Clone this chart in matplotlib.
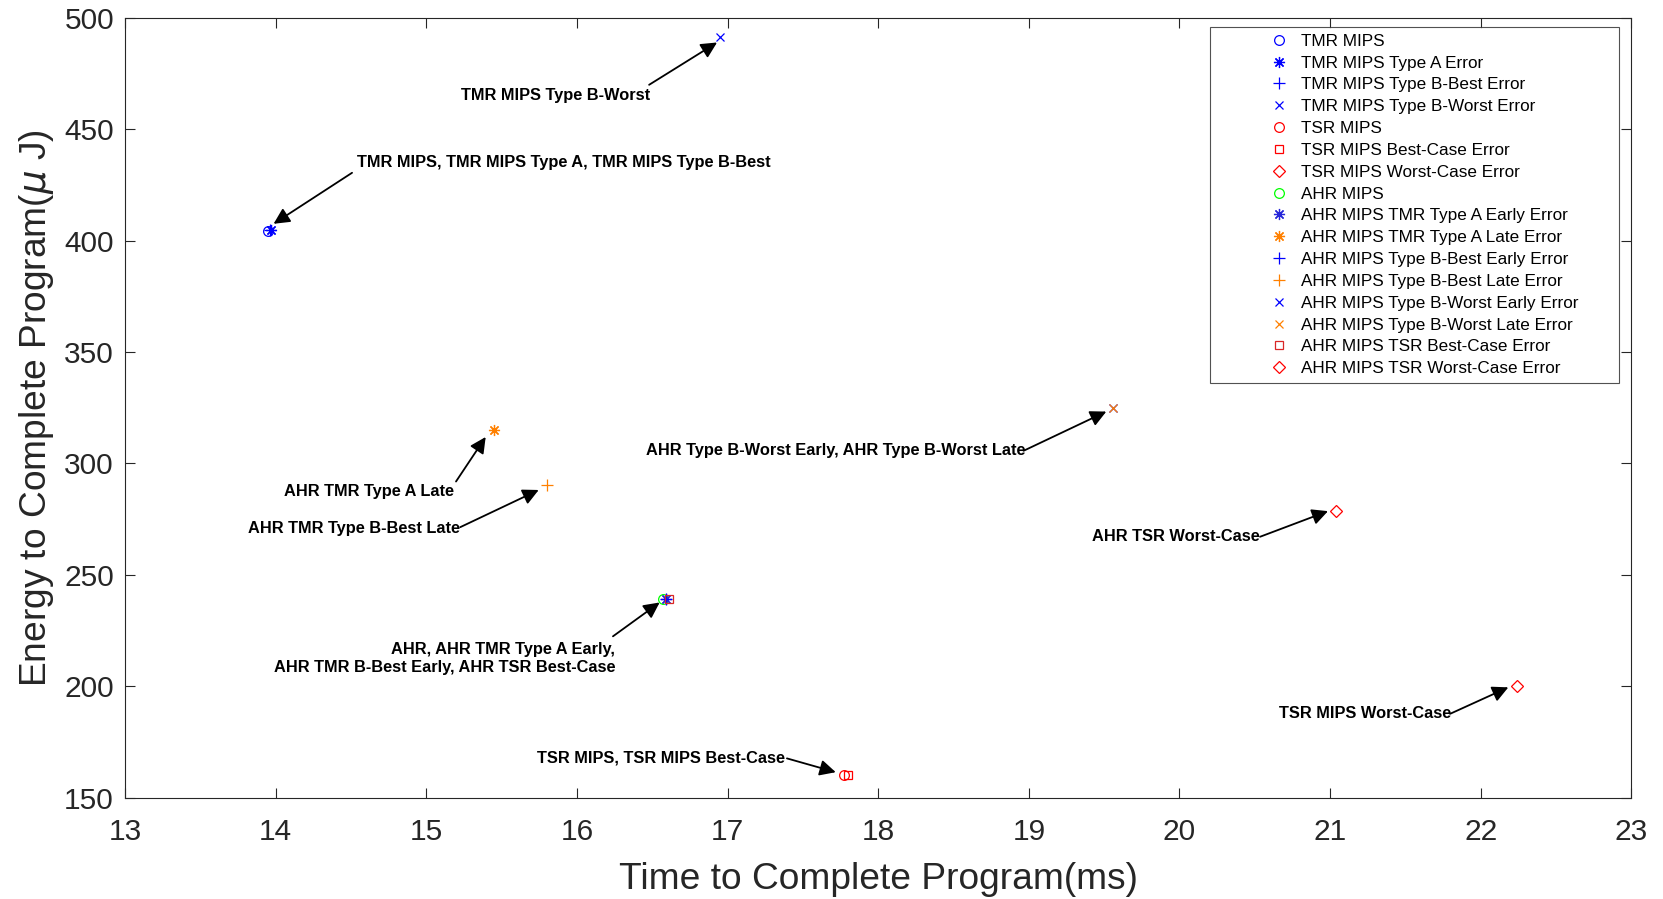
import numpy as np
import matplotlib
matplotlib.use('Agg')
import matplotlib.pyplot as plt
from matplotlib.lines import Line2D
from matplotlib.legend_handler import HandlerLine2D

plt.rcParams['font.family'] = ['Liberation Sans', 'DejaVu Sans']

# series (legend order)
names = [
    'TMR MIPS', 'TMR MIPS Type A Error', 'TMR MIPS Type B-Best Error',
    'TMR MIPS Type B-Worst Error', 'TSR MIPS', 'TSR MIPS Best-Case Error',
    'TSR MIPS Worst-Case Error', 'AHR MIPS', 'AHR MIPS TMR Type A Early Error',
    'AHR MIPS TMR Type A Late Error', 'AHR MIPS Type B-Best Early Error',
    'AHR MIPS Type B-Best Late Error', 'AHR MIPS Type B-Worst Early Error',
    'AHR MIPS Type B-Worst Late Error', 'AHR MIPS TSR Best-Case Error',
    'AHR MIPS TSR Worst-Case Error',
]
time_ms = [13.95, 13.97, 13.96, 16.95, 17.77, 17.80, 22.24, 16.57,
           16.59, 15.45, 16.59, 15.80, 19.56, 19.56, 16.61, 21.04]
energy_uj = [404.5, 405.0, 405.0, 491.5, 160.0, 160.0, 200.0, 239.0,
             239.0, 315.0, 239.0, 290.5, 325.0, 325.0, 239.0, 278.5]

AST = (8, 2, 0)  # matlab style asterisk
markers = ['o', AST, '+', 'x', 'o', 's', 'D', 'o',
           AST, AST, '+', '+', 'x', 'x', 's', 'D']
blue = (0, 0, 1)
red = (1, 0, 0)
green = (0, 1, 0)
orange = (1, 0.5, 0)
dblue = (0.15, 0.15, 0.85)
dred = (0.85, 0.15, 0.15)
colors = [blue, blue, blue, blue, red, red, red, green,
          dblue, orange, blue, orange, blue, orange, dred, red]
sizes = [7, 8, 8, 6, 7, 6, 6, 7, 8, 8, 8, 8, 6, 6, 6, 6]

# annotations: text, text pos, alignment, arrow tail, arrow head
notes = [
    ('TMR MIPS Type B-Worst', (15.859, 465.2), 'center', (16.479, 470.0), (16.93, 489.0)),
    ('TMR MIPS, TMR MIPS Type A, TMR MIPS Type B-Best', (14.542, 435.2), 'left', (14.507, 430.5), (13.986, 407.6)),
    ('AHR TMR Type A Late', (14.62, 287.6), 'center', (15.197, 291.9), (15.394, 311.9)),
    ('AHR TMR Type B-Best Late', (14.521, 270.95), 'center', (15.225, 271.4), (15.746, 288.1)),
    ('AHR Type B-Worst Early, AHR Type B-Worst Late', (17.718, 305.7), 'center', (18.965, 305.7), (19.514, 323.3)),
    ('AHR TSR Worst-Case', (19.979, 267.1), 'center', (20.535, 267.1), (20.986, 278.6)),
    ('TSR MIPS Worst-Case', (21.232, 187.6), 'center', (21.796, 187.6), (22.183, 199.5)),
    ('AHR, AHR TMR Type A Early,\nAHR TMR B-Best Early, AHR TSR Best-Case', (16.254, 212.4), 'right', (16.239, 222.4), (16.549, 237.6)),
    ('TSR MIPS, TSR MIPS Best-Case', (16.556, 167.6), 'center', (17.394, 167.6), (17.718, 161.4)),
]


class RightMarkerHandler(HandlerLine2D):
    # put the legend marker near the right end of the handle, like matlab
    def get_xdata(self, legend, xdescent, ydescent, width, height, fontsize):
        m = -xdescent + width - 0.39 * fontsize
        return np.array([m - 1, m + 1]), np.array([m])


fig = plt.figure(figsize=(16.63, 8.99), dpi=100)
ax = fig.add_axes([0.0752, 0.1128, 0.9058, 0.8672])

handles = []
for i in range(len(names)):
    h, = ax.plot(time_ms[i], energy_uj[i], linestyle='none', marker=markers[i],
                 markersize=sizes[i], markerfacecolor='none',
                 markeredgecolor=colors[i], color=colors[i],
                 markeredgewidth=0.9, label=names[i])
    handles.append(h)

for txt, tpos, ha, tail, head in notes:
    ax.text(tpos[0], tpos[1], txt, ha=ha, va='center', fontsize=11.8,
            fontweight='bold', linespacing=1.3)
    ax.annotate('', xy=head, xytext=tail,
                arrowprops=dict(arrowstyle='-|>', color='k', lw=1.3,
                                mutation_scale=24, shrinkA=0, shrinkB=0))

ax.set_xlim(13, 23)
ax.set_ylim(150, 500)
ax.set_xticks(np.arange(13, 24, 1))
ax.set_yticks(np.arange(150, 501, 50))
ax.tick_params(direction='in', length=7, width=0.8, labelsize=21.5,
               top=True, right=True, colors='#262626', labelcolor='#262626')
ax.tick_params(axis='x', pad=15)
ax.tick_params(axis='y', pad=8)
for s in ax.spines.values():
    s.set_color('#262626')
    s.set_linewidth(0.8)

ax.set_xlabel('Time to Complete Program(ms)', fontsize=26.7, color='#262626', labelpad=11)
ax.set_ylabel('Energy to Complete Program($\\mu$ J)', fontsize=26.7, color='#262626', labelpad=6)

leg = ax.legend(handles=handles, loc='upper left',
                bbox_to_anchor=(0.7205, 0.5, 0.2712, 0.489), mode='expand',
                borderaxespad=0, fontsize=12.3,
                frameon=True, fancybox=False, edgecolor='#262626',
                handlelength=4.0, handletextpad=0.9, labelspacing=0.40,
                borderpad=0.42, numpoints=1,
                handler_map={Line2D: RightMarkerHandler(numpoints=1)})
leg.get_frame().set_linewidth(0.8)

fig.savefig('out.png', dpi=100)
